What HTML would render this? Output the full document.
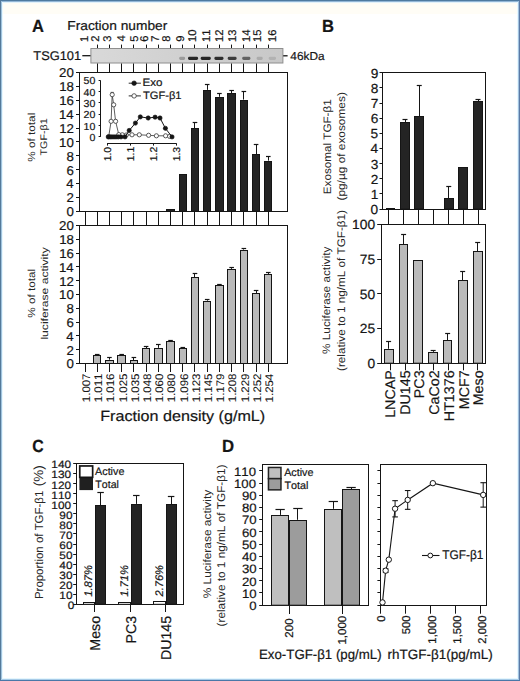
<!DOCTYPE html>
<html><head><meta charset="utf-8"><style>
html,body{margin:0;padding:0;background:#fff;}
body{width:520px;height:681px;overflow:hidden;}
svg{display:block;}
svg text{font-family:"Liberation Sans", sans-serif;font-kerning:none;stroke:#151515;stroke-width:0.2px;}
</style></head><body>
<svg width="520" height="681" viewBox="0 0 520 681" text-rendering="geometricPrecision">
<rect x="0" y="0" width="520" height="681" fill="#fff"/>
<rect x="2" y="3" width="516" height="11" fill="#fffdf6"/>
<text x="31.89" y="31.5" font-size="17.6" font-weight="bold" font-style="normal" fill="#151515" textLength="11.95" lengthAdjust="spacingAndGlyphs">A</text>
<text x="67.27" y="29.5" font-size="13" font-weight="normal" font-style="normal" fill="#151515" textLength="100.06" lengthAdjust="spacingAndGlyphs">Fraction number</text>
<text transform="translate(87.6 42.05) rotate(-90)" x="0" y="0" font-size="11.2" font-weight="normal" font-style="normal" fill="#151515" textLength="6.23" lengthAdjust="spacingAndGlyphs">1</text>
<text transform="translate(99.21 41.76) rotate(-90)" x="0" y="0" font-size="11.2" font-weight="normal" font-style="normal" fill="#151515" textLength="6.23" lengthAdjust="spacingAndGlyphs">2</text>
<text transform="translate(110.51 41.63) rotate(-90)" x="0" y="0" font-size="11.2" font-weight="normal" font-style="normal" fill="#151515" textLength="6.23" lengthAdjust="spacingAndGlyphs">3</text>
<text transform="translate(125.05 41.46) rotate(-90)" x="0" y="0" font-size="11.2" font-weight="normal" font-style="normal" fill="#151515" textLength="6.23" lengthAdjust="spacingAndGlyphs">4</text>
<text transform="translate(138.15 41.65) rotate(-90)" x="0" y="0" font-size="11.2" font-weight="normal" font-style="normal" fill="#151515" textLength="6.23" lengthAdjust="spacingAndGlyphs">5</text>
<text transform="translate(148.41 41.77) rotate(-90)" x="0" y="0" font-size="11.2" font-weight="normal" font-style="normal" fill="#151515" textLength="6.23" lengthAdjust="spacingAndGlyphs">6</text>
<text transform="translate(158.85 41.77) rotate(-90)" x="0" y="0" font-size="11.2" font-weight="normal" font-style="normal" fill="#151515" textLength="6.23" lengthAdjust="spacingAndGlyphs">7</text>
<text transform="translate(169.71 41.69) rotate(-90)" x="0" y="0" font-size="11.2" font-weight="normal" font-style="normal" fill="#151515" textLength="6.23" lengthAdjust="spacingAndGlyphs">8</text>
<text transform="translate(183.71 41.73) rotate(-90)" x="0" y="0" font-size="11.2" font-weight="normal" font-style="normal" fill="#151515" textLength="6.23" lengthAdjust="spacingAndGlyphs">9</text>
<text transform="translate(196.41 42.05) rotate(-90)" x="0" y="0" font-size="11.2" font-weight="normal" font-style="normal" fill="#151515" textLength="12.46" lengthAdjust="spacingAndGlyphs">10</text>
<text transform="translate(209.65 42.05) rotate(-90)" x="0" y="0" font-size="11.2" font-weight="normal" font-style="normal" fill="#151515" textLength="12.46" lengthAdjust="spacingAndGlyphs">11</text>
<text transform="translate(223.11 42.05) rotate(-90)" x="0" y="0" font-size="11.2" font-weight="normal" font-style="normal" fill="#151515" textLength="12.46" lengthAdjust="spacingAndGlyphs">12</text>
<text transform="translate(236.11 42.05) rotate(-90)" x="0" y="0" font-size="11.2" font-weight="normal" font-style="normal" fill="#151515" textLength="12.46" lengthAdjust="spacingAndGlyphs">13</text>
<text transform="translate(249.85 42.05) rotate(-90)" x="0" y="0" font-size="11.2" font-weight="normal" font-style="normal" fill="#151515" textLength="12.46" lengthAdjust="spacingAndGlyphs">14</text>
<text transform="translate(260.85 42.05) rotate(-90)" x="0" y="0" font-size="11.2" font-weight="normal" font-style="normal" fill="#151515" textLength="12.46" lengthAdjust="spacingAndGlyphs">15</text>
<text transform="translate(275.61 42.05) rotate(-90)" x="0" y="0" font-size="11.2" font-weight="normal" font-style="normal" fill="#151515" textLength="12.46" lengthAdjust="spacingAndGlyphs">16</text>
<defs><linearGradient id="gel" x1="0" x2="1" y1="0" y2="0"><stop offset="0" stop-color="#d9d9d9"/><stop offset="0.5" stop-color="#d0d0d0"/><stop offset="1" stop-color="#c8c8c8"/></linearGradient><filter id="blur1" x="-50%" y="-100%" width="200%" height="300%"><feGaussianBlur stdDeviation="0.6 0.45"/></filter></defs>
<rect x="90.9" y="48.5" width="192" height="14.5" fill="url(#gel)" stroke="#8e8e8e" stroke-width="1"/>
<rect x="179.2" y="56.8" width="5.9" height="3.2" rx="1.4" fill="#9a9a9a" filter="url(#blur1)"/>
<rect x="188" y="56.8" width="10.1" height="3.2" rx="1.4" fill="#252525" filter="url(#blur1)"/>
<rect x="200.7" y="56.8" width="10.1" height="3.2" rx="1.4" fill="#252525" filter="url(#blur1)"/>
<rect x="214.4" y="56.8" width="9.1" height="3.2" rx="1.4" fill="#2e2e2e" filter="url(#blur1)"/>
<rect x="227.7" y="56.8" width="8.9" height="3.2" rx="1.4" fill="#3c3c3c" filter="url(#blur1)"/>
<rect x="242.2" y="56.8" width="8.2" height="3.2" rx="1.4" fill="#646464" filter="url(#blur1)"/>
<rect x="256.6" y="56.8" width="6.1" height="3.2" rx="1.4" fill="#ababab" filter="url(#blur1)"/>
<rect x="268.7" y="56.8" width="7.3" height="3.2" rx="1.4" fill="#b2b2b2" filter="url(#blur1)"/>
<line x1="97.5" y1="44.6" x2="97.5" y2="48" stroke="#151515" stroke-width="1"/>
<line x1="97.5" y1="63.5" x2="97.5" y2="72.5" stroke="#151515" stroke-width="1"/>
<line x1="109.5" y1="44.6" x2="109.5" y2="48" stroke="#151515" stroke-width="1"/>
<line x1="109.5" y1="63.5" x2="109.5" y2="72.5" stroke="#151515" stroke-width="1"/>
<line x1="121.5" y1="44.6" x2="121.5" y2="48" stroke="#151515" stroke-width="1"/>
<line x1="121.5" y1="63.5" x2="121.5" y2="72.5" stroke="#151515" stroke-width="1"/>
<line x1="133.5" y1="44.6" x2="133.5" y2="48" stroke="#151515" stroke-width="1"/>
<line x1="133.5" y1="63.5" x2="133.5" y2="72.5" stroke="#151515" stroke-width="1"/>
<line x1="146.5" y1="44.6" x2="146.5" y2="48" stroke="#151515" stroke-width="1"/>
<line x1="146.5" y1="63.5" x2="146.5" y2="72.5" stroke="#151515" stroke-width="1"/>
<line x1="158.5" y1="44.6" x2="158.5" y2="48" stroke="#151515" stroke-width="1"/>
<line x1="158.5" y1="63.5" x2="158.5" y2="72.5" stroke="#151515" stroke-width="1"/>
<line x1="170.5" y1="44.6" x2="170.5" y2="48" stroke="#151515" stroke-width="1"/>
<line x1="170.5" y1="63.5" x2="170.5" y2="72.5" stroke="#151515" stroke-width="1"/>
<line x1="182.5" y1="44.6" x2="182.5" y2="48" stroke="#151515" stroke-width="1"/>
<line x1="182.5" y1="63.5" x2="182.5" y2="72.5" stroke="#151515" stroke-width="1"/>
<line x1="194.5" y1="44.6" x2="194.5" y2="48" stroke="#151515" stroke-width="1"/>
<line x1="194.5" y1="63.5" x2="194.5" y2="72.5" stroke="#151515" stroke-width="1"/>
<line x1="207.5" y1="44.6" x2="207.5" y2="48" stroke="#151515" stroke-width="1"/>
<line x1="207.5" y1="63.5" x2="207.5" y2="72.5" stroke="#151515" stroke-width="1"/>
<line x1="219.5" y1="44.6" x2="219.5" y2="48" stroke="#151515" stroke-width="1"/>
<line x1="219.5" y1="63.5" x2="219.5" y2="72.5" stroke="#151515" stroke-width="1"/>
<line x1="231.5" y1="44.6" x2="231.5" y2="48" stroke="#151515" stroke-width="1"/>
<line x1="231.5" y1="63.5" x2="231.5" y2="72.5" stroke="#151515" stroke-width="1"/>
<line x1="243.5" y1="44.6" x2="243.5" y2="48" stroke="#151515" stroke-width="1"/>
<line x1="243.5" y1="63.5" x2="243.5" y2="72.5" stroke="#151515" stroke-width="1"/>
<line x1="256.5" y1="44.6" x2="256.5" y2="48" stroke="#151515" stroke-width="1"/>
<line x1="256.5" y1="63.5" x2="256.5" y2="72.5" stroke="#151515" stroke-width="1"/>
<line x1="268.5" y1="44.6" x2="268.5" y2="48" stroke="#151515" stroke-width="1"/>
<line x1="268.5" y1="63.5" x2="268.5" y2="72.5" stroke="#151515" stroke-width="1"/>
<text x="33.31" y="59.6" font-size="12.6" font-weight="normal" font-style="normal" fill="#151515" textLength="47.86" lengthAdjust="spacingAndGlyphs">TSG101</text>
<line x1="82.3" y1="55.7" x2="90.5" y2="55.7" stroke="#151515" stroke-width="1.3"/>
<line x1="283.2" y1="55.8" x2="287.6" y2="55.8" stroke="#151515" stroke-width="1.3"/>
<text x="290.33" y="59.9" font-size="11.6" font-weight="normal" font-style="normal" fill="#151515" textLength="34.2" lengthAdjust="spacingAndGlyphs">46kDa</text>
<rect x="79.5" y="72.5" width="208" height="139" fill="none" stroke="#151515" stroke-width="1"/>
<line x1="76" y1="211.5" x2="79.8" y2="211.5" stroke="#151515" stroke-width="1"/>
<text x="66.48" y="216.25" font-size="12.9" font-weight="normal" font-style="normal" fill="#151515" textLength="7.39" lengthAdjust="spacingAndGlyphs">0</text>
<line x1="76" y1="197.5" x2="79.8" y2="197.5" stroke="#151515" stroke-width="1"/>
<text x="66.63" y="202.37" font-size="12.9" font-weight="normal" font-style="normal" fill="#151515" textLength="7.39" lengthAdjust="spacingAndGlyphs">2</text>
<line x1="76" y1="183.5" x2="79.8" y2="183.5" stroke="#151515" stroke-width="1"/>
<text x="66.35" y="188.43" font-size="12.9" font-weight="normal" font-style="normal" fill="#151515" textLength="7.39" lengthAdjust="spacingAndGlyphs">4</text>
<line x1="76" y1="169.5" x2="79.8" y2="169.5" stroke="#151515" stroke-width="1"/>
<text x="66.54" y="174.61" font-size="12.9" font-weight="normal" font-style="normal" fill="#151515" textLength="7.39" lengthAdjust="spacingAndGlyphs">6</text>
<line x1="76" y1="155.5" x2="79.8" y2="155.5" stroke="#151515" stroke-width="1"/>
<text x="66.54" y="160.73" font-size="12.9" font-weight="normal" font-style="normal" fill="#151515" textLength="7.39" lengthAdjust="spacingAndGlyphs">8</text>
<line x1="76" y1="141.5" x2="79.8" y2="141.5" stroke="#151515" stroke-width="1"/>
<text x="59.09" y="146.85" font-size="12.9" font-weight="normal" font-style="normal" fill="#151515" textLength="14.78" lengthAdjust="spacingAndGlyphs">10</text>
<line x1="76" y1="128.5" x2="79.8" y2="128.5" stroke="#151515" stroke-width="1"/>
<text x="59.24" y="132.97" font-size="12.9" font-weight="normal" font-style="normal" fill="#151515" textLength="14.78" lengthAdjust="spacingAndGlyphs">12</text>
<line x1="76" y1="114.5" x2="79.8" y2="114.5" stroke="#151515" stroke-width="1"/>
<text x="58.96" y="119.03" font-size="12.9" font-weight="normal" font-style="normal" fill="#151515" textLength="14.78" lengthAdjust="spacingAndGlyphs">14</text>
<line x1="76" y1="100.5" x2="79.8" y2="100.5" stroke="#151515" stroke-width="1"/>
<text x="59.15" y="105.21" font-size="12.9" font-weight="normal" font-style="normal" fill="#151515" textLength="14.78" lengthAdjust="spacingAndGlyphs">16</text>
<line x1="76" y1="86.5" x2="79.8" y2="86.5" stroke="#151515" stroke-width="1"/>
<text x="59.15" y="91.33" font-size="12.9" font-weight="normal" font-style="normal" fill="#151515" textLength="14.78" lengthAdjust="spacingAndGlyphs">18</text>
<line x1="76" y1="72.5" x2="79.8" y2="72.5" stroke="#151515" stroke-width="1"/>
<text x="59.09" y="77.45" font-size="12.9" font-weight="normal" font-style="normal" fill="#151515" textLength="14.78" lengthAdjust="spacingAndGlyphs">20</text>
<line x1="85.5" y1="211.3" x2="85.5" y2="225.4" stroke="#151515" stroke-width="1"/>
<line x1="97.5" y1="211.3" x2="97.5" y2="225.4" stroke="#151515" stroke-width="1"/>
<line x1="109.5" y1="211.3" x2="109.5" y2="225.4" stroke="#151515" stroke-width="1"/>
<line x1="121.5" y1="211.3" x2="121.5" y2="225.4" stroke="#151515" stroke-width="1"/>
<line x1="133.5" y1="211.3" x2="133.5" y2="225.4" stroke="#151515" stroke-width="1"/>
<line x1="146.5" y1="211.3" x2="146.5" y2="225.4" stroke="#151515" stroke-width="1"/>
<line x1="158.5" y1="211.3" x2="158.5" y2="225.4" stroke="#151515" stroke-width="1"/>
<line x1="170.5" y1="211.3" x2="170.5" y2="225.4" stroke="#151515" stroke-width="1"/>
<line x1="182.5" y1="211.3" x2="182.5" y2="225.4" stroke="#151515" stroke-width="1"/>
<line x1="194.5" y1="211.3" x2="194.5" y2="225.4" stroke="#151515" stroke-width="1"/>
<line x1="207.5" y1="211.3" x2="207.5" y2="225.4" stroke="#151515" stroke-width="1"/>
<line x1="219.5" y1="211.3" x2="219.5" y2="225.4" stroke="#151515" stroke-width="1"/>
<line x1="231.5" y1="211.3" x2="231.5" y2="225.4" stroke="#151515" stroke-width="1"/>
<line x1="243.5" y1="211.3" x2="243.5" y2="225.4" stroke="#151515" stroke-width="1"/>
<line x1="256.5" y1="211.3" x2="256.5" y2="225.4" stroke="#151515" stroke-width="1"/>
<line x1="268.5" y1="211.3" x2="268.5" y2="225.4" stroke="#151515" stroke-width="1"/>
<rect x="166.5" y="209.5" width="8" height="1.80" fill="#242424" stroke="#151515" stroke-width="1"/>
<rect x="179.5" y="174.5" width="7" height="36.80" fill="#242424" stroke="#151515" stroke-width="1"/>
<line x1="194.5" y1="122.47" x2="194.5" y2="128.02" stroke="#151515" stroke-width="1"/>
<line x1="192.68" y1="122.5" x2="197.28" y2="122.5" stroke="#151515" stroke-width="1.2"/>
<rect x="191.5" y="128.5" width="7" height="82.80" fill="#242424" stroke="#151515" stroke-width="1"/>
<line x1="207.5" y1="84.3" x2="207.5" y2="89.85" stroke="#151515" stroke-width="1"/>
<line x1="204.9" y1="84.5" x2="209.5" y2="84.5" stroke="#151515" stroke-width="1.2"/>
<rect x="203.5" y="90.5" width="7" height="120.80" fill="#242424" stroke="#151515" stroke-width="1"/>
<line x1="219.5" y1="93.32" x2="219.5" y2="96.79" stroke="#151515" stroke-width="1"/>
<line x1="217.12" y1="93.5" x2="221.72" y2="93.5" stroke="#151515" stroke-width="1.2"/>
<rect x="215.5" y="97.5" width="8" height="113.80" fill="#242424" stroke="#151515" stroke-width="1"/>
<line x1="231.5" y1="90.54" x2="231.5" y2="93.32" stroke="#151515" stroke-width="1"/>
<line x1="229.34" y1="90.5" x2="233.94" y2="90.5" stroke="#151515" stroke-width="1.2"/>
<rect x="227.5" y="93.5" width="8" height="117.80" fill="#242424" stroke="#151515" stroke-width="1"/>
<line x1="243.5" y1="91.93" x2="243.5" y2="99.57" stroke="#151515" stroke-width="1"/>
<line x1="241.56" y1="91.5" x2="246.16" y2="91.5" stroke="#151515" stroke-width="1.2"/>
<rect x="240.5" y="100.5" width="7" height="110.80" fill="#242424" stroke="#151515" stroke-width="1"/>
<line x1="256.5" y1="144.68" x2="256.5" y2="154.05" stroke="#151515" stroke-width="1"/>
<line x1="253.78" y1="144.5" x2="258.38" y2="144.5" stroke="#151515" stroke-width="1.2"/>
<rect x="252.5" y="154.5" width="7" height="56.80" fill="#242424" stroke="#151515" stroke-width="1"/>
<line x1="268.5" y1="156.47" x2="268.5" y2="160.64" stroke="#151515" stroke-width="1"/>
<line x1="266" y1="156.5" x2="270.6" y2="156.5" stroke="#151515" stroke-width="1.2"/>
<rect x="264.5" y="161.5" width="7" height="49.80" fill="#242424" stroke="#151515" stroke-width="1"/>
<text transform="translate(35 161.82) rotate(-90)" x="0" y="0" font-size="10.2" font-weight="normal" font-style="normal" fill="#262626" textLength="49.11" lengthAdjust="spacingAndGlyphs" style="stroke-width:0px;stroke:#262626">% of total</text>
<text transform="translate(47.4 155.44) rotate(-90)" x="0" y="0" font-size="9.6" font-weight="normal" font-style="normal" fill="#262626" textLength="37.16" lengthAdjust="spacingAndGlyphs" style="stroke-width:0px;stroke:#262626">TGF-β1</text>
<line x1="100.5" y1="80.3" x2="100.5" y2="136.9" stroke="#151515" stroke-width="1"/>
<line x1="98.6" y1="136.5" x2="100.4" y2="136.5" stroke="#151515" stroke-width="1"/>
<text x="89.51" y="140.91" font-size="10.2" font-weight="normal" font-style="normal" fill="#151515" textLength="5.9" lengthAdjust="spacingAndGlyphs">0</text>
<line x1="98.6" y1="125.5" x2="100.4" y2="125.5" stroke="#151515" stroke-width="1"/>
<text x="83.62" y="129.59" font-size="10.2" font-weight="normal" font-style="normal" fill="#151515" textLength="11.8" lengthAdjust="spacingAndGlyphs">10</text>
<line x1="98.6" y1="114.5" x2="100.4" y2="114.5" stroke="#151515" stroke-width="1"/>
<text x="83.62" y="118.27" font-size="10.2" font-weight="normal" font-style="normal" fill="#151515" textLength="11.8" lengthAdjust="spacingAndGlyphs">20</text>
<line x1="98.6" y1="102.5" x2="100.4" y2="102.5" stroke="#151515" stroke-width="1"/>
<text x="83.62" y="106.95" font-size="10.2" font-weight="normal" font-style="normal" fill="#151515" textLength="11.8" lengthAdjust="spacingAndGlyphs">30</text>
<line x1="98.6" y1="91.5" x2="100.4" y2="91.5" stroke="#151515" stroke-width="1"/>
<text x="83.62" y="95.63" font-size="10.2" font-weight="normal" font-style="normal" fill="#151515" textLength="11.8" lengthAdjust="spacingAndGlyphs">40</text>
<line x1="98.6" y1="80.5" x2="100.4" y2="80.5" stroke="#151515" stroke-width="1"/>
<text x="83.62" y="84.31" font-size="10.2" font-weight="normal" font-style="normal" fill="#151515" textLength="11.8" lengthAdjust="spacingAndGlyphs">50</text>
<line x1="107.1" y1="143.5" x2="176.5" y2="143.5" stroke="#151515" stroke-width="1"/>
<line x1="107.5" y1="143.3" x2="107.5" y2="145.6" stroke="#151515" stroke-width="1"/>
<text transform="translate(110.59 161.35) rotate(-90)" x="0" y="0" font-size="10" font-weight="normal" font-style="normal" fill="#151515" textLength="14.46" lengthAdjust="spacingAndGlyphs">1.0</text>
<line x1="130.5" y1="143.3" x2="130.5" y2="145.6" stroke="#151515" stroke-width="1"/>
<text transform="translate(133.64 161.25) rotate(-90)" x="0" y="0" font-size="10" font-weight="normal" font-style="normal" fill="#151515" textLength="14.46" lengthAdjust="spacingAndGlyphs">1.1</text>
<line x1="153.5" y1="143.3" x2="153.5" y2="145.6" stroke="#151515" stroke-width="1"/>
<text transform="translate(156.79 161.23) rotate(-90)" x="0" y="0" font-size="10" font-weight="normal" font-style="normal" fill="#151515" textLength="14.46" lengthAdjust="spacingAndGlyphs">1.2</text>
<line x1="176.5" y1="143.3" x2="176.5" y2="145.6" stroke="#151515" stroke-width="1"/>
<text transform="translate(179.89 161.3) rotate(-90)" x="0" y="0" font-size="10" font-weight="normal" font-style="normal" fill="#151515" textLength="14.46" lengthAdjust="spacingAndGlyphs">1.3</text>
<line x1="110.7" y1="92.4" x2="113.7" y2="92.4" stroke="#151515" stroke-width="0.9"/>
<polyline points="108.7,136.6 111.1,121.3 112.2,94.7 113.7,104.8 115.6,121.3 118.8,134.6 122.3,134.8 126.2,135 132,134.8 139.3,134.8 148.6,135.3 156.4,135.8 165.6,135.8 169.6,136.4" fill="none" stroke="#333" stroke-width="0.8"/>
<circle cx="108.7" cy="136.6" r="2.1" fill="#fff" stroke="#333" stroke-width="0.8"/>
<circle cx="111.1" cy="121.3" r="2.1" fill="#fff" stroke="#333" stroke-width="0.8"/>
<circle cx="112.2" cy="94.7" r="2.1" fill="#fff" stroke="#333" stroke-width="0.8"/>
<circle cx="113.7" cy="104.8" r="2.1" fill="#fff" stroke="#333" stroke-width="0.8"/>
<circle cx="115.6" cy="121.3" r="2.1" fill="#fff" stroke="#333" stroke-width="0.8"/>
<circle cx="118.8" cy="134.6" r="2.1" fill="#fff" stroke="#333" stroke-width="0.8"/>
<circle cx="122.3" cy="134.8" r="2.1" fill="#fff" stroke="#333" stroke-width="0.8"/>
<circle cx="126.2" cy="135" r="2.1" fill="#fff" stroke="#333" stroke-width="0.8"/>
<circle cx="132" cy="134.8" r="2.1" fill="#fff" stroke="#333" stroke-width="0.8"/>
<circle cx="139.3" cy="134.8" r="2.1" fill="#fff" stroke="#333" stroke-width="0.8"/>
<circle cx="148.6" cy="135.3" r="2.1" fill="#fff" stroke="#333" stroke-width="0.8"/>
<circle cx="156.4" cy="135.8" r="2.1" fill="#fff" stroke="#333" stroke-width="0.8"/>
<circle cx="165.6" cy="135.8" r="2.1" fill="#fff" stroke="#333" stroke-width="0.8"/>
<circle cx="169.6" cy="136.4" r="2.1" fill="#fff" stroke="#333" stroke-width="0.8"/>
<polyline points="108.3,136.9 110.2,136.9 112,136.9 114,136.9 116,136.9 118.2,136.9 121,136.9 125,136.9 129.2,130.5 135.4,123.1 140.3,116.9 148.2,118 155.1,117.2 160,118 165.4,128.3 172,136.9" fill="none" stroke="#151515" stroke-width="1"/>
<circle cx="108.3" cy="136.9" r="2.15" fill="#151515" stroke="#151515" stroke-width="0.6"/>
<circle cx="110.2" cy="136.9" r="2.15" fill="#151515" stroke="#151515" stroke-width="0.6"/>
<circle cx="112" cy="136.9" r="2.15" fill="#151515" stroke="#151515" stroke-width="0.6"/>
<circle cx="114" cy="136.9" r="2.15" fill="#151515" stroke="#151515" stroke-width="0.6"/>
<circle cx="116" cy="136.9" r="2.15" fill="#151515" stroke="#151515" stroke-width="0.6"/>
<circle cx="118.2" cy="136.9" r="2.15" fill="#151515" stroke="#151515" stroke-width="0.6"/>
<circle cx="121" cy="136.9" r="2.15" fill="#151515" stroke="#151515" stroke-width="0.6"/>
<circle cx="125" cy="136.9" r="2.15" fill="#151515" stroke="#151515" stroke-width="0.6"/>
<circle cx="129.2" cy="130.5" r="2.15" fill="#151515" stroke="#151515" stroke-width="0.6"/>
<circle cx="135.4" cy="123.1" r="2.15" fill="#151515" stroke="#151515" stroke-width="0.6"/>
<circle cx="140.3" cy="116.9" r="2.15" fill="#151515" stroke="#151515" stroke-width="0.6"/>
<circle cx="148.2" cy="118" r="2.15" fill="#151515" stroke="#151515" stroke-width="0.6"/>
<circle cx="155.1" cy="117.2" r="2.15" fill="#151515" stroke="#151515" stroke-width="0.6"/>
<circle cx="160" cy="118" r="2.15" fill="#151515" stroke="#151515" stroke-width="0.6"/>
<circle cx="165.4" cy="128.3" r="2.15" fill="#151515" stroke="#151515" stroke-width="0.6"/>
<circle cx="172" cy="136.9" r="2.15" fill="#151515" stroke="#151515" stroke-width="0.6"/>
<line x1="128.7" y1="83.2" x2="140.9" y2="83.2" stroke="#151515" stroke-width="0.9"/>
<circle cx="134.1" cy="83.2" r="2.3" fill="#151515" stroke="#151515" stroke-width="0.6"/>
<text x="142.55" y="86.3" font-size="10.8" font-weight="normal" font-style="normal" fill="#151515" textLength="20.04" lengthAdjust="spacingAndGlyphs">Exo</text>
<line x1="128.7" y1="95.9" x2="140.9" y2="95.9" stroke="#151515" stroke-width="0.9"/>
<circle cx="134.1" cy="95.9" r="2.2" fill="#fff" stroke="#333" stroke-width="0.8"/>
<text x="142.95" y="99.2" font-size="10.8" font-weight="normal" font-style="normal" fill="#151515" textLength="38.59" lengthAdjust="spacingAndGlyphs">TGF-β1</text>
<rect x="79.5" y="225.5" width="208" height="138" fill="none" stroke="#151515" stroke-width="1"/>
<line x1="76" y1="363.5" x2="79.8" y2="363.5" stroke="#151515" stroke-width="1"/>
<text x="66.48" y="368.45" font-size="12.9" font-weight="normal" font-style="normal" fill="#151515" textLength="7.39" lengthAdjust="spacingAndGlyphs">0</text>
<line x1="76" y1="349.5" x2="79.8" y2="349.5" stroke="#151515" stroke-width="1"/>
<text x="66.63" y="354.64" font-size="12.9" font-weight="normal" font-style="normal" fill="#151515" textLength="7.39" lengthAdjust="spacingAndGlyphs">2</text>
<line x1="76" y1="335.5" x2="79.8" y2="335.5" stroke="#151515" stroke-width="1"/>
<text x="66.35" y="340.77" font-size="12.9" font-weight="normal" font-style="normal" fill="#151515" textLength="7.39" lengthAdjust="spacingAndGlyphs">4</text>
<line x1="76" y1="322.5" x2="79.8" y2="322.5" stroke="#151515" stroke-width="1"/>
<text x="66.54" y="327.02" font-size="12.9" font-weight="normal" font-style="normal" fill="#151515" textLength="7.39" lengthAdjust="spacingAndGlyphs">6</text>
<line x1="76" y1="308.5" x2="79.8" y2="308.5" stroke="#151515" stroke-width="1"/>
<text x="66.54" y="313.21" font-size="12.9" font-weight="normal" font-style="normal" fill="#151515" textLength="7.39" lengthAdjust="spacingAndGlyphs">8</text>
<line x1="76" y1="294.5" x2="79.8" y2="294.5" stroke="#151515" stroke-width="1"/>
<text x="59.09" y="299.4" font-size="12.9" font-weight="normal" font-style="normal" fill="#151515" textLength="14.78" lengthAdjust="spacingAndGlyphs">10</text>
<line x1="76" y1="280.5" x2="79.8" y2="280.5" stroke="#151515" stroke-width="1"/>
<text x="59.24" y="285.59" font-size="12.9" font-weight="normal" font-style="normal" fill="#151515" textLength="14.78" lengthAdjust="spacingAndGlyphs">12</text>
<line x1="76" y1="266.5" x2="79.8" y2="266.5" stroke="#151515" stroke-width="1"/>
<text x="58.96" y="271.72" font-size="12.9" font-weight="normal" font-style="normal" fill="#151515" textLength="14.78" lengthAdjust="spacingAndGlyphs">14</text>
<line x1="76" y1="253.5" x2="79.8" y2="253.5" stroke="#151515" stroke-width="1"/>
<text x="59.15" y="257.97" font-size="12.9" font-weight="normal" font-style="normal" fill="#151515" textLength="14.78" lengthAdjust="spacingAndGlyphs">16</text>
<line x1="76" y1="239.5" x2="79.8" y2="239.5" stroke="#151515" stroke-width="1"/>
<text x="59.15" y="244.16" font-size="12.9" font-weight="normal" font-style="normal" fill="#151515" textLength="14.78" lengthAdjust="spacingAndGlyphs">18</text>
<line x1="76" y1="225.5" x2="79.8" y2="225.5" stroke="#151515" stroke-width="1"/>
<text x="59.09" y="230.35" font-size="12.9" font-weight="normal" font-style="normal" fill="#151515" textLength="14.78" lengthAdjust="spacingAndGlyphs">20</text>
<line x1="97.5" y1="354.52" x2="97.5" y2="355.21" stroke="#151515" stroke-width="1"/>
<line x1="94.92" y1="354.5" x2="99.52" y2="354.5" stroke="#151515" stroke-width="1.2"/>
<rect x="93.5" y="355.5" width="7" height="8.00" fill="#bababa" stroke="#151515" stroke-width="1"/>
<line x1="109.5" y1="357.63" x2="109.5" y2="359.7" stroke="#151515" stroke-width="1"/>
<line x1="107.14" y1="357.5" x2="111.74" y2="357.5" stroke="#151515" stroke-width="1.2"/>
<rect x="105.5" y="360.5" width="8" height="3.00" fill="#bababa" stroke="#151515" stroke-width="1"/>
<line x1="121.5" y1="354.32" x2="121.5" y2="354.73" stroke="#151515" stroke-width="1"/>
<line x1="119.36" y1="354.5" x2="123.96" y2="354.5" stroke="#151515" stroke-width="1.2"/>
<rect x="117.5" y="355.5" width="8" height="8.00" fill="#bababa" stroke="#151515" stroke-width="1"/>
<line x1="133.5" y1="357.01" x2="133.5" y2="360.39" stroke="#151515" stroke-width="1"/>
<line x1="131.58" y1="357.5" x2="136.18" y2="357.5" stroke="#151515" stroke-width="1.2"/>
<rect x="130.5" y="360.5" width="7" height="3.00" fill="#bababa" stroke="#151515" stroke-width="1"/>
<line x1="146.5" y1="346.44" x2="146.5" y2="348.31" stroke="#151515" stroke-width="1"/>
<line x1="143.8" y1="346.5" x2="148.4" y2="346.5" stroke="#151515" stroke-width="1.2"/>
<rect x="142.5" y="348.5" width="7" height="15.00" fill="#bababa" stroke="#151515" stroke-width="1"/>
<line x1="158.5" y1="344.99" x2="158.5" y2="347.83" stroke="#151515" stroke-width="1"/>
<line x1="156.02" y1="344.5" x2="160.62" y2="344.5" stroke="#151515" stroke-width="1.2"/>
<rect x="154.5" y="348.5" width="8" height="15.00" fill="#bababa" stroke="#151515" stroke-width="1"/>
<line x1="170.5" y1="340.51" x2="170.5" y2="340.92" stroke="#151515" stroke-width="1"/>
<line x1="168.24" y1="340.5" x2="172.84" y2="340.5" stroke="#151515" stroke-width="1.2"/>
<rect x="166.5" y="341.5" width="8" height="22.00" fill="#bababa" stroke="#151515" stroke-width="1"/>
<line x1="182.5" y1="347.83" x2="182.5" y2="348.31" stroke="#151515" stroke-width="1"/>
<line x1="180.46" y1="347.5" x2="185.06" y2="347.5" stroke="#151515" stroke-width="1.2"/>
<rect x="179.5" y="348.5" width="7" height="15.00" fill="#bababa" stroke="#151515" stroke-width="1"/>
<line x1="194.5" y1="273.04" x2="194.5" y2="277.19" stroke="#151515" stroke-width="1"/>
<line x1="192.68" y1="273.5" x2="197.28" y2="273.5" stroke="#151515" stroke-width="1.2"/>
<rect x="191.5" y="277.5" width="7" height="86.00" fill="#bababa" stroke="#151515" stroke-width="1"/>
<line x1="207.5" y1="299.63" x2="207.5" y2="300.66" stroke="#151515" stroke-width="1"/>
<line x1="204.9" y1="299.5" x2="209.5" y2="299.5" stroke="#151515" stroke-width="1.2"/>
<rect x="203.5" y="301.5" width="7" height="62.00" fill="#bababa" stroke="#151515" stroke-width="1"/>
<line x1="219.5" y1="284.44" x2="219.5" y2="285.47" stroke="#151515" stroke-width="1"/>
<line x1="217.12" y1="284.5" x2="221.72" y2="284.5" stroke="#151515" stroke-width="1.2"/>
<rect x="215.5" y="285.5" width="8" height="78.00" fill="#bababa" stroke="#151515" stroke-width="1"/>
<line x1="231.5" y1="267.52" x2="231.5" y2="268.9" stroke="#151515" stroke-width="1"/>
<line x1="229.34" y1="267.5" x2="233.94" y2="267.5" stroke="#151515" stroke-width="1.2"/>
<rect x="227.5" y="269.5" width="8" height="94.00" fill="#bababa" stroke="#151515" stroke-width="1"/>
<line x1="243.5" y1="248.19" x2="243.5" y2="249.57" stroke="#151515" stroke-width="1"/>
<line x1="241.56" y1="248.5" x2="246.16" y2="248.5" stroke="#151515" stroke-width="1.2"/>
<rect x="240.5" y="250.5" width="7" height="113.00" fill="#bababa" stroke="#151515" stroke-width="1"/>
<line x1="256.5" y1="291" x2="256.5" y2="293.07" stroke="#151515" stroke-width="1"/>
<line x1="253.78" y1="290.5" x2="258.38" y2="290.5" stroke="#151515" stroke-width="1.2"/>
<rect x="252.5" y="293.5" width="7" height="70.00" fill="#bababa" stroke="#151515" stroke-width="1"/>
<line x1="268.5" y1="272.7" x2="268.5" y2="273.94" stroke="#151515" stroke-width="1"/>
<line x1="266" y1="272.5" x2="270.6" y2="272.5" stroke="#151515" stroke-width="1.2"/>
<rect x="264.5" y="274.5" width="7" height="89.00" fill="#bababa" stroke="#151515" stroke-width="1"/>
<line x1="85.5" y1="363.5" x2="85.5" y2="372" stroke="#151515" stroke-width="1"/>
<text transform="translate(89.84 402.15) rotate(-90)" x="0" y="0" font-size="11" font-weight="normal" font-style="normal" fill="#151515" textLength="28.63" lengthAdjust="spacingAndGlyphs" style="stroke-width:0.05px;stroke:#151515">1.007</text>
<line x1="97.5" y1="363.5" x2="97.5" y2="372" stroke="#151515" stroke-width="1"/>
<text transform="translate(102.06 402.17) rotate(-90)" x="0" y="0" font-size="11" font-weight="normal" font-style="normal" fill="#151515" textLength="28.63" lengthAdjust="spacingAndGlyphs" style="stroke-width:0.05px;stroke:#151515">1.011</text>
<line x1="109.5" y1="363.5" x2="109.5" y2="372" stroke="#151515" stroke-width="1"/>
<text transform="translate(114.28 402.23) rotate(-90)" x="0" y="0" font-size="11" font-weight="normal" font-style="normal" fill="#151515" textLength="28.63" lengthAdjust="spacingAndGlyphs" style="stroke-width:0.05px;stroke:#151515">1.016</text>
<line x1="121.5" y1="363.5" x2="121.5" y2="372" stroke="#151515" stroke-width="1"/>
<text transform="translate(126.5 402.25) rotate(-90)" x="0" y="0" font-size="11" font-weight="normal" font-style="normal" fill="#151515" textLength="28.63" lengthAdjust="spacingAndGlyphs" style="stroke-width:0.05px;stroke:#151515">1.025</text>
<line x1="133.5" y1="363.5" x2="133.5" y2="372" stroke="#151515" stroke-width="1"/>
<text transform="translate(138.72 402.25) rotate(-90)" x="0" y="0" font-size="11" font-weight="normal" font-style="normal" fill="#151515" textLength="28.63" lengthAdjust="spacingAndGlyphs" style="stroke-width:0.05px;stroke:#151515">1.035</text>
<line x1="146.5" y1="363.5" x2="146.5" y2="372" stroke="#151515" stroke-width="1"/>
<text transform="translate(150.94 402.23) rotate(-90)" x="0" y="0" font-size="11" font-weight="normal" font-style="normal" fill="#151515" textLength="28.63" lengthAdjust="spacingAndGlyphs" style="stroke-width:0.05px;stroke:#151515">1.048</text>
<line x1="158.5" y1="363.5" x2="158.5" y2="372" stroke="#151515" stroke-width="1"/>
<text transform="translate(163.16 402.28) rotate(-90)" x="0" y="0" font-size="11" font-weight="normal" font-style="normal" fill="#151515" textLength="28.63" lengthAdjust="spacingAndGlyphs" style="stroke-width:0.05px;stroke:#151515">1.060</text>
<line x1="170.5" y1="363.5" x2="170.5" y2="372" stroke="#151515" stroke-width="1"/>
<text transform="translate(175.38 402.28) rotate(-90)" x="0" y="0" font-size="11" font-weight="normal" font-style="normal" fill="#151515" textLength="28.63" lengthAdjust="spacingAndGlyphs" style="stroke-width:0.05px;stroke:#151515">1.080</text>
<line x1="182.5" y1="363.5" x2="182.5" y2="372" stroke="#151515" stroke-width="1"/>
<text transform="translate(187.6 402.23) rotate(-90)" x="0" y="0" font-size="11" font-weight="normal" font-style="normal" fill="#151515" textLength="28.63" lengthAdjust="spacingAndGlyphs" style="stroke-width:0.05px;stroke:#151515">1.096</text>
<line x1="194.5" y1="363.5" x2="194.5" y2="372" stroke="#151515" stroke-width="1"/>
<text transform="translate(199.82 402.23) rotate(-90)" x="0" y="0" font-size="11" font-weight="normal" font-style="normal" fill="#151515" textLength="28.63" lengthAdjust="spacingAndGlyphs" style="stroke-width:0.05px;stroke:#151515">1.123</text>
<line x1="207.5" y1="363.5" x2="207.5" y2="372" stroke="#151515" stroke-width="1"/>
<text transform="translate(211.98 402.25) rotate(-90)" x="0" y="0" font-size="11" font-weight="normal" font-style="normal" fill="#151515" textLength="28.63" lengthAdjust="spacingAndGlyphs" style="stroke-width:0.05px;stroke:#151515">1.145</text>
<line x1="219.5" y1="363.5" x2="219.5" y2="372" stroke="#151515" stroke-width="1"/>
<text transform="translate(224.26 402.19) rotate(-90)" x="0" y="0" font-size="11" font-weight="normal" font-style="normal" fill="#151515" textLength="28.63" lengthAdjust="spacingAndGlyphs" style="stroke-width:0.05px;stroke:#151515">1.179</text>
<line x1="231.5" y1="363.5" x2="231.5" y2="372" stroke="#151515" stroke-width="1"/>
<text transform="translate(236.48 402.23) rotate(-90)" x="0" y="0" font-size="11" font-weight="normal" font-style="normal" fill="#151515" textLength="28.63" lengthAdjust="spacingAndGlyphs" style="stroke-width:0.05px;stroke:#151515">1.208</text>
<line x1="243.5" y1="363.5" x2="243.5" y2="372" stroke="#151515" stroke-width="1"/>
<text transform="translate(248.7 402.19) rotate(-90)" x="0" y="0" font-size="11" font-weight="normal" font-style="normal" fill="#151515" textLength="28.63" lengthAdjust="spacingAndGlyphs" style="stroke-width:0.05px;stroke:#151515">1.229</text>
<line x1="256.5" y1="363.5" x2="256.5" y2="372" stroke="#151515" stroke-width="1"/>
<text transform="translate(260.92 402.15) rotate(-90)" x="0" y="0" font-size="11" font-weight="normal" font-style="normal" fill="#151515" textLength="28.63" lengthAdjust="spacingAndGlyphs" style="stroke-width:0.05px;stroke:#151515">1.252</text>
<line x1="268.5" y1="363.5" x2="268.5" y2="372" stroke="#151515" stroke-width="1"/>
<text transform="translate(273.14 402.39) rotate(-90)" x="0" y="0" font-size="11" font-weight="normal" font-style="normal" fill="#151515" textLength="28.63" lengthAdjust="spacingAndGlyphs" style="stroke-width:0.05px;stroke:#151515">1.254</text>
<text transform="translate(35.1 317.72) rotate(-90)" x="0" y="0" font-size="10.2" font-weight="normal" font-style="normal" fill="#262626" textLength="48.9" lengthAdjust="spacingAndGlyphs" style="stroke-width:0px;stroke:#262626">% of total</text>
<text transform="translate(48.1 339.62) rotate(-90)" x="0" y="0" font-size="9.9" font-weight="normal" font-style="normal" fill="#262626" textLength="92.34" lengthAdjust="spacingAndGlyphs" style="stroke-width:0px;stroke:#262626">luciferase activity</text>
<text x="100.28" y="421.2" font-size="14.8" font-weight="normal" font-style="normal" fill="#151515" textLength="164.92" lengthAdjust="spacingAndGlyphs">Fraction density (g/mL)</text>
<text x="322.09" y="31.5" font-size="17.6" font-weight="bold" font-style="normal" fill="#151515" textLength="12.02" lengthAdjust="spacingAndGlyphs">B</text>
<rect x="382.5" y="72.5" width="103" height="137" fill="none" stroke="#151515" stroke-width="1"/>
<line x1="379.5" y1="209.5" x2="382.9" y2="209.5" stroke="#151515" stroke-width="1"/>
<text x="370.6" y="214.01" font-size="13.2" font-weight="normal" font-style="normal" fill="#151515" textLength="7.63" lengthAdjust="spacingAndGlyphs">0</text>
<line x1="379.5" y1="193.5" x2="382.9" y2="193.5" stroke="#151515" stroke-width="1"/>
<text x="370.74" y="198.8" font-size="13.2" font-weight="normal" font-style="normal" fill="#151515" textLength="7.63" lengthAdjust="spacingAndGlyphs">1</text>
<line x1="379.5" y1="178.5" x2="382.9" y2="178.5" stroke="#151515" stroke-width="1"/>
<text x="370.76" y="183.72" font-size="13.2" font-weight="normal" font-style="normal" fill="#151515" textLength="7.63" lengthAdjust="spacingAndGlyphs">2</text>
<line x1="379.5" y1="163.5" x2="382.9" y2="163.5" stroke="#151515" stroke-width="1"/>
<text x="370.67" y="168.58" font-size="13.2" font-weight="normal" font-style="normal" fill="#151515" textLength="7.63" lengthAdjust="spacingAndGlyphs">3</text>
<line x1="379.5" y1="148.5" x2="382.9" y2="148.5" stroke="#151515" stroke-width="1"/>
<text x="370.47" y="153.36" font-size="13.2" font-weight="normal" font-style="normal" fill="#151515" textLength="7.63" lengthAdjust="spacingAndGlyphs">4</text>
<line x1="379.5" y1="133.5" x2="382.9" y2="133.5" stroke="#151515" stroke-width="1"/>
<text x="370.64" y="138.22" font-size="13.2" font-weight="normal" font-style="normal" fill="#151515" textLength="7.63" lengthAdjust="spacingAndGlyphs">5</text>
<line x1="379.5" y1="118.5" x2="382.9" y2="118.5" stroke="#151515" stroke-width="1"/>
<text x="370.67" y="123.14" font-size="13.2" font-weight="normal" font-style="normal" fill="#151515" textLength="7.63" lengthAdjust="spacingAndGlyphs">6</text>
<line x1="379.5" y1="103.5" x2="382.9" y2="103.5" stroke="#151515" stroke-width="1"/>
<text x="370.76" y="107.93" font-size="13.2" font-weight="normal" font-style="normal" fill="#151515" textLength="7.63" lengthAdjust="spacingAndGlyphs">7</text>
<line x1="379.5" y1="87.5" x2="382.9" y2="87.5" stroke="#151515" stroke-width="1"/>
<text x="370.66" y="92.85" font-size="13.2" font-weight="normal" font-style="normal" fill="#151515" textLength="7.63" lengthAdjust="spacingAndGlyphs">8</text>
<line x1="379.5" y1="72.5" x2="382.9" y2="72.5" stroke="#151515" stroke-width="1"/>
<text x="370.72" y="77.71" font-size="13.2" font-weight="normal" font-style="normal" fill="#151515" textLength="7.63" lengthAdjust="spacingAndGlyphs">9</text>
<rect x="386.5" y="208.5" width="8" height="0.60" fill="#242424" stroke="#151515" stroke-width="1"/>
<line x1="405.5" y1="119.29" x2="405.5" y2="122.02" stroke="#151515" stroke-width="1"/>
<line x1="402.5" y1="119.5" x2="407.5" y2="119.5" stroke="#151515" stroke-width="1.2"/>
<rect x="400.5" y="122.5" width="9" height="86.60" fill="#242424" stroke="#151515" stroke-width="1"/>
<line x1="419.5" y1="85.67" x2="419.5" y2="116.11" stroke="#151515" stroke-width="1"/>
<line x1="416.75" y1="85.5" x2="421.75" y2="85.5" stroke="#151515" stroke-width="1.2"/>
<rect x="414.5" y="116.5" width="9" height="92.60" fill="#242424" stroke="#151515" stroke-width="1"/>
<line x1="448.5" y1="186.23" x2="448.5" y2="198.04" stroke="#151515" stroke-width="1"/>
<line x1="446.25" y1="186.5" x2="451.25" y2="186.5" stroke="#151515" stroke-width="1.2"/>
<rect x="444.5" y="198.5" width="9" height="10.60" fill="#242424" stroke="#151515" stroke-width="1"/>
<rect x="458.5" y="167.5" width="9" height="41.60" fill="#242424" stroke="#151515" stroke-width="1"/>
<line x1="478.5" y1="99.15" x2="478.5" y2="100.97" stroke="#151515" stroke-width="1"/>
<line x1="475.5" y1="99.5" x2="480.5" y2="99.5" stroke="#151515" stroke-width="1.2"/>
<rect x="473.5" y="101.5" width="9" height="107.60" fill="#242424" stroke="#151515" stroke-width="1"/>
<line x1="388.5" y1="209.1" x2="388.5" y2="224.6" stroke="#151515" stroke-width="1"/>
<line x1="403.5" y1="209.1" x2="403.5" y2="224.6" stroke="#151515" stroke-width="1"/>
<line x1="418.5" y1="209.1" x2="418.5" y2="224.6" stroke="#151515" stroke-width="1"/>
<line x1="433.5" y1="209.1" x2="433.5" y2="224.6" stroke="#151515" stroke-width="1"/>
<line x1="448.5" y1="209.1" x2="448.5" y2="224.6" stroke="#151515" stroke-width="1"/>
<line x1="463.5" y1="209.1" x2="463.5" y2="224.6" stroke="#151515" stroke-width="1"/>
<line x1="478.5" y1="209.1" x2="478.5" y2="224.6" stroke="#151515" stroke-width="1"/>
<text transform="translate(330.5 194.16) rotate(-90)" x="0" y="0" font-size="10.8" font-weight="normal" font-style="normal" fill="#262626" textLength="94.83" lengthAdjust="spacingAndGlyphs" style="stroke-width:0px;stroke:#262626">Exosomal TGF-β1</text>
<text transform="translate(344.9 200.54) rotate(-90)" x="0" y="0" font-size="10.8" font-weight="normal" font-style="normal" fill="#262626" textLength="108.37" lengthAdjust="spacingAndGlyphs" style="stroke-width:0px;stroke:#262626">(pg/µg of exosomes)</text>
<rect x="381.5" y="224.5" width="104" height="139" fill="none" stroke="#151515" stroke-width="1"/>
<line x1="377.2" y1="363.5" x2="381.2" y2="363.5" stroke="#151515" stroke-width="1"/>
<text x="367.45" y="368.09" font-size="13.3" font-weight="normal" font-style="normal" fill="#151515" textLength="7.69" lengthAdjust="spacingAndGlyphs">0</text>
<line x1="377.2" y1="328.5" x2="381.2" y2="328.5" stroke="#151515" stroke-width="1"/>
<text x="359.8" y="333.44" font-size="13.3" font-weight="normal" font-style="normal" fill="#151515" textLength="15.39" lengthAdjust="spacingAndGlyphs">25</text>
<line x1="377.2" y1="293.5" x2="381.2" y2="293.5" stroke="#151515" stroke-width="1"/>
<text x="359.75" y="298.79" font-size="13.3" font-weight="normal" font-style="normal" fill="#151515" textLength="15.39" lengthAdjust="spacingAndGlyphs">50</text>
<line x1="377.2" y1="259.5" x2="381.2" y2="259.5" stroke="#151515" stroke-width="1"/>
<text x="359.8" y="264.08" font-size="13.3" font-weight="normal" font-style="normal" fill="#151515" textLength="15.39" lengthAdjust="spacingAndGlyphs">75</text>
<line x1="377.2" y1="224.5" x2="381.2" y2="224.5" stroke="#151515" stroke-width="1"/>
<text x="352.06" y="229.49" font-size="13.3" font-weight="normal" font-style="normal" fill="#151515" textLength="23.08" lengthAdjust="spacingAndGlyphs">100</text>
<line x1="388.5" y1="341.02" x2="388.5" y2="348.79" stroke="#151515" stroke-width="1"/>
<line x1="386.1" y1="341.5" x2="391.1" y2="341.5" stroke="#151515" stroke-width="1.2"/>
<rect x="384.5" y="349.5" width="9" height="13.70" fill="#bababa" stroke="#151515" stroke-width="1"/>
<line x1="403.5" y1="234.86" x2="403.5" y2="244" stroke="#151515" stroke-width="1"/>
<line x1="401.1" y1="234.5" x2="406.1" y2="234.5" stroke="#151515" stroke-width="1.2"/>
<rect x="399.5" y="244.5" width="8" height="118.70" fill="#bababa" stroke="#151515" stroke-width="1"/>
<rect x="413.5" y="260.5" width="9" height="102.70" fill="#bababa" stroke="#151515" stroke-width="1"/>
<line x1="433.5" y1="350.45" x2="433.5" y2="351.83" stroke="#151515" stroke-width="1"/>
<line x1="430.65" y1="350.5" x2="435.65" y2="350.5" stroke="#151515" stroke-width="1.2"/>
<rect x="428.5" y="352.5" width="9" height="10.70" fill="#bababa" stroke="#151515" stroke-width="1"/>
<line x1="447.5" y1="333.82" x2="447.5" y2="340.19" stroke="#151515" stroke-width="1"/>
<line x1="445.15" y1="333.5" x2="450.15" y2="333.5" stroke="#151515" stroke-width="1.2"/>
<rect x="443.5" y="340.5" width="8" height="22.70" fill="#bababa" stroke="#151515" stroke-width="1"/>
<line x1="462.5" y1="271.72" x2="462.5" y2="280.18" stroke="#151515" stroke-width="1"/>
<line x1="460.15" y1="271.5" x2="465.15" y2="271.5" stroke="#151515" stroke-width="1.2"/>
<rect x="458.5" y="280.5" width="9" height="82.70" fill="#bababa" stroke="#151515" stroke-width="1"/>
<line x1="477.5" y1="242.48" x2="477.5" y2="251.49" stroke="#151515" stroke-width="1"/>
<line x1="475.15" y1="242.5" x2="480.15" y2="242.5" stroke="#151515" stroke-width="1.2"/>
<rect x="473.5" y="251.5" width="9" height="111.70" fill="#bababa" stroke="#151515" stroke-width="1"/>
<line x1="390.5" y1="363.2" x2="390.5" y2="370.3" stroke="#151515" stroke-width="1"/>
<text transform="translate(395.39 417.86) rotate(-90)" x="0" y="0" font-size="14" font-weight="normal" font-style="normal" fill="#151515" textLength="47.62" lengthAdjust="spacingAndGlyphs">LNCAP</text>
<line x1="405.5" y1="363.2" x2="405.5" y2="370.3" stroke="#151515" stroke-width="1"/>
<text transform="translate(410.22 414.85) rotate(-90)" x="0" y="0" font-size="14" font-weight="normal" font-style="normal" fill="#151515" textLength="44.45" lengthAdjust="spacingAndGlyphs">DU145</text>
<line x1="419.5" y1="363.2" x2="419.5" y2="370.3" stroke="#151515" stroke-width="1"/>
<text transform="translate(424.49 398.15) rotate(-90)" x="0" y="0" font-size="14" font-weight="normal" font-style="normal" fill="#151515" textLength="27.78" lengthAdjust="spacingAndGlyphs">PC3</text>
<line x1="433.5" y1="363.2" x2="433.5" y2="370.3" stroke="#151515" stroke-width="1"/>
<text transform="translate(438.99 414.73) rotate(-90)" x="0" y="0" font-size="14" font-weight="normal" font-style="normal" fill="#151515" textLength="44.45" lengthAdjust="spacingAndGlyphs">CaCo2</text>
<line x1="448.5" y1="363.2" x2="448.5" y2="370.3" stroke="#151515" stroke-width="1"/>
<text transform="translate(453.99 421.18) rotate(-90)" x="0" y="0" font-size="14" font-weight="normal" font-style="normal" fill="#151515" textLength="50.8" lengthAdjust="spacingAndGlyphs">HT1376</text>
<line x1="463.5" y1="363.2" x2="463.5" y2="370.3" stroke="#151515" stroke-width="1"/>
<text transform="translate(468.99 409.15) rotate(-90)" x="0" y="0" font-size="14" font-weight="normal" font-style="normal" fill="#151515" textLength="38.87" lengthAdjust="spacingAndGlyphs">MCF7</text>
<line x1="477.5" y1="363.2" x2="477.5" y2="370.3" stroke="#151515" stroke-width="1"/>
<text transform="translate(482.92 405.32) rotate(-90)" x="0" y="0" font-size="14" font-weight="normal" font-style="normal" fill="#151515" textLength="34.92" lengthAdjust="spacingAndGlyphs">Meso</text>
<text transform="translate(329.7 353.92) rotate(-90)" x="0" y="0" font-size="10.8" font-weight="normal" font-style="normal" fill="#262626" textLength="107.34" lengthAdjust="spacingAndGlyphs" style="stroke-width:0px;stroke:#262626">% Luciferase activity</text>
<text transform="translate(345.1 370.93) rotate(-90)" x="0" y="0" font-size="11" font-weight="normal" font-style="normal" fill="#262626" textLength="160.85" lengthAdjust="spacingAndGlyphs" style="stroke-width:0px;stroke:#262626">(relative to 1 ng/mL of TGF-β1)</text>
<text x="32.25" y="451.6" font-size="17.6" font-weight="bold" font-style="normal" fill="#151515" textLength="11.49" lengthAdjust="spacingAndGlyphs">C</text>
<rect x="76.5" y="463.5" width="107" height="141" fill="none" stroke="#151515" stroke-width="1"/>
<line x1="73.2" y1="604.5" x2="76.8" y2="604.5" stroke="#151515" stroke-width="1"/>
<text x="67.66" y="609.1" font-size="10.6" font-weight="normal" font-style="normal" fill="#151515" textLength="6.6" lengthAdjust="spacingAndGlyphs">0</text>
<line x1="73.2" y1="594.5" x2="76.8" y2="594.5" stroke="#151515" stroke-width="1"/>
<text x="59.36" y="599.05" font-size="10.6" font-weight="normal" font-style="normal" fill="#151515" textLength="13.21" lengthAdjust="spacingAndGlyphs">10</text>
<line x1="73.2" y1="584.5" x2="76.8" y2="584.5" stroke="#151515" stroke-width="1"/>
<text x="59.36" y="589" font-size="10.6" font-weight="normal" font-style="normal" fill="#151515" textLength="13.21" lengthAdjust="spacingAndGlyphs">20</text>
<line x1="73.2" y1="574.5" x2="76.8" y2="574.5" stroke="#151515" stroke-width="1"/>
<text x="59.36" y="578.95" font-size="10.6" font-weight="normal" font-style="normal" fill="#151515" textLength="13.21" lengthAdjust="spacingAndGlyphs">30</text>
<line x1="73.2" y1="564.5" x2="76.8" y2="564.5" stroke="#151515" stroke-width="1"/>
<text x="59.36" y="568.9" font-size="10.6" font-weight="normal" font-style="normal" fill="#151515" textLength="13.21" lengthAdjust="spacingAndGlyphs">40</text>
<line x1="73.2" y1="554.5" x2="76.8" y2="554.5" stroke="#151515" stroke-width="1"/>
<text x="59.36" y="558.85" font-size="10.6" font-weight="normal" font-style="normal" fill="#151515" textLength="13.21" lengthAdjust="spacingAndGlyphs">50</text>
<line x1="73.2" y1="544.5" x2="76.8" y2="544.5" stroke="#151515" stroke-width="1"/>
<text x="59.36" y="548.8" font-size="10.6" font-weight="normal" font-style="normal" fill="#151515" textLength="13.21" lengthAdjust="spacingAndGlyphs">60</text>
<line x1="73.2" y1="533.5" x2="76.8" y2="533.5" stroke="#151515" stroke-width="1"/>
<text x="59.36" y="538.75" font-size="10.6" font-weight="normal" font-style="normal" fill="#151515" textLength="13.21" lengthAdjust="spacingAndGlyphs">70</text>
<line x1="73.2" y1="523.5" x2="76.8" y2="523.5" stroke="#151515" stroke-width="1"/>
<text x="59.36" y="528.7" font-size="10.6" font-weight="normal" font-style="normal" fill="#151515" textLength="13.21" lengthAdjust="spacingAndGlyphs">80</text>
<line x1="73.2" y1="513.5" x2="76.8" y2="513.5" stroke="#151515" stroke-width="1"/>
<text x="59.36" y="518.65" font-size="10.6" font-weight="normal" font-style="normal" fill="#151515" textLength="13.21" lengthAdjust="spacingAndGlyphs">90</text>
<line x1="73.2" y1="503.5" x2="76.8" y2="503.5" stroke="#151515" stroke-width="1"/>
<text x="51.36" y="508.6" font-size="10.6" font-weight="normal" font-style="normal" fill="#151515" textLength="19.81" lengthAdjust="spacingAndGlyphs">100</text>
<line x1="73.2" y1="493.5" x2="76.8" y2="493.5" stroke="#151515" stroke-width="1"/>
<text x="51.36" y="498.55" font-size="10.6" font-weight="normal" font-style="normal" fill="#151515" textLength="19.81" lengthAdjust="spacingAndGlyphs">110</text>
<line x1="73.2" y1="483.5" x2="76.8" y2="483.5" stroke="#151515" stroke-width="1"/>
<text x="51.36" y="488.5" font-size="10.6" font-weight="normal" font-style="normal" fill="#151515" textLength="19.81" lengthAdjust="spacingAndGlyphs">120</text>
<line x1="73.2" y1="473.5" x2="76.8" y2="473.5" stroke="#151515" stroke-width="1"/>
<text x="51.36" y="478.45" font-size="10.6" font-weight="normal" font-style="normal" fill="#151515" textLength="19.81" lengthAdjust="spacingAndGlyphs">130</text>
<line x1="73.2" y1="463.5" x2="76.8" y2="463.5" stroke="#151515" stroke-width="1"/>
<text x="51.36" y="468.4" font-size="10.6" font-weight="normal" font-style="normal" fill="#151515" textLength="19.81" lengthAdjust="spacingAndGlyphs">140</text>
<rect x="79.4" y="477.2" width="13.6" height="12.9" fill="#202020"/>
<rect x="79.75" y="465.95" width="12.9" height="11.4" fill="#fff" stroke="#151515" stroke-width="1.7"/>
<text x="95.08" y="474.6" font-size="10.8" font-weight="normal" font-style="normal" fill="#151515" textLength="29.3" lengthAdjust="spacingAndGlyphs">Active</text>
<text x="95.36" y="487.9" font-size="10.8" font-weight="normal" font-style="normal" fill="#151515" textLength="23.55" lengthAdjust="spacingAndGlyphs">Total</text>
<rect x="83.5" y="602.5" width="11" height="1.80" fill="#fff" stroke="#151515" stroke-width="1"/>
<line x1="100.5" y1="492.85" x2="100.5" y2="505.01" stroke="#151515" stroke-width="1"/>
<line x1="97.35" y1="492.5" x2="103.85" y2="492.5" stroke="#151515" stroke-width="1.2"/>
<rect x="95.5" y="505.5" width="10" height="98.80" fill="#242424" stroke="#151515" stroke-width="1"/>
<line x1="94.5" y1="604.3" x2="94.5" y2="612" stroke="#151515" stroke-width="1"/>
<text transform="translate(100.18 650.63) rotate(-90)" x="0" y="0" font-size="14.2" font-weight="normal" font-style="normal" fill="#151515" textLength="34.72" lengthAdjust="spacingAndGlyphs">Meso</text>
<text transform="translate(92 596.79) rotate(-90)" x="0" y="0" font-size="11" font-weight="normal" font-style="italic" fill="#151515" textLength="31.77" lengthAdjust="spacingAndGlyphs">1.87%</text>
<rect x="118.5" y="602.5" width="12" height="1.80" fill="#fff" stroke="#151515" stroke-width="1"/>
<line x1="136.5" y1="495.86" x2="136.5" y2="503.9" stroke="#151515" stroke-width="1"/>
<line x1="133.05" y1="495.5" x2="139.55" y2="495.5" stroke="#151515" stroke-width="1.2"/>
<rect x="131.5" y="504.5" width="10" height="99.80" fill="#242424" stroke="#151515" stroke-width="1"/>
<line x1="130.5" y1="604.3" x2="130.5" y2="612" stroke="#151515" stroke-width="1"/>
<text transform="translate(135.96 643.5) rotate(-90)" x="0" y="0" font-size="14.2" font-weight="normal" font-style="normal" fill="#151515" textLength="27.62" lengthAdjust="spacingAndGlyphs">PC3</text>
<text transform="translate(127.7 596.79) rotate(-90)" x="0" y="0" font-size="11" font-weight="normal" font-style="italic" fill="#151515" textLength="31.77" lengthAdjust="spacingAndGlyphs">1.71%</text>
<rect x="153.5" y="601.5" width="12" height="2.80" fill="#fff" stroke="#151515" stroke-width="1"/>
<line x1="171.5" y1="496.87" x2="171.5" y2="504.1" stroke="#151515" stroke-width="1"/>
<line x1="167.85" y1="496.5" x2="174.35" y2="496.5" stroke="#151515" stroke-width="1.2"/>
<rect x="166.5" y="504.5" width="10" height="99.80" fill="#242424" stroke="#151515" stroke-width="1"/>
<line x1="165.5" y1="604.3" x2="165.5" y2="612" stroke="#151515" stroke-width="1"/>
<text transform="translate(170.68 660.11) rotate(-90)" x="0" y="0" font-size="14.2" font-weight="normal" font-style="normal" fill="#151515" textLength="44.2" lengthAdjust="spacingAndGlyphs">DU145</text>
<text transform="translate(162.5 596.44) rotate(-90)" x="0" y="0" font-size="11" font-weight="normal" font-style="italic" fill="#151515" textLength="31.41" lengthAdjust="spacingAndGlyphs">2.76%</text>
<text transform="translate(42.8 599.04) rotate(-90)" x="0" y="0" font-size="11.6" font-weight="normal" font-style="normal" fill="#262626" textLength="108.3" lengthAdjust="spacingAndGlyphs" style="stroke-width:0px;stroke:#262626">Proportion of TGF-β1</text>
<text transform="translate(42.9 486.23) rotate(-90)" x="0" y="0" font-size="13.2" font-weight="normal" font-style="normal" fill="#262626" textLength="20.86" lengthAdjust="spacingAndGlyphs" style="stroke-width:0px;stroke:#262626">(%)</text>
<text x="221.98" y="451.5" font-size="17.6" font-weight="bold" font-style="normal" fill="#151515" textLength="12.13" lengthAdjust="spacingAndGlyphs">D</text>
<rect x="262.5" y="464.5" width="106" height="141" fill="none" stroke="#151515" stroke-width="1"/>
<line x1="259.2" y1="605.5" x2="262.8" y2="605.5" stroke="#151515" stroke-width="1"/>
<text x="249.39" y="609.96" font-size="12.2" font-weight="normal" font-style="normal" fill="#151515" textLength="7.33" lengthAdjust="spacingAndGlyphs">0</text>
<line x1="259.2" y1="592.5" x2="262.8" y2="592.5" stroke="#151515" stroke-width="1"/>
<text x="242.06" y="597.74" font-size="12.2" font-weight="normal" font-style="normal" fill="#151515" textLength="14.66" lengthAdjust="spacingAndGlyphs">10</text>
<line x1="259.2" y1="580.5" x2="262.8" y2="580.5" stroke="#151515" stroke-width="1"/>
<text x="242.06" y="585.52" font-size="12.2" font-weight="normal" font-style="normal" fill="#151515" textLength="14.66" lengthAdjust="spacingAndGlyphs">20</text>
<line x1="259.2" y1="568.5" x2="262.8" y2="568.5" stroke="#151515" stroke-width="1"/>
<text x="242.06" y="573.3" font-size="12.2" font-weight="normal" font-style="normal" fill="#151515" textLength="14.66" lengthAdjust="spacingAndGlyphs">30</text>
<line x1="259.2" y1="556.5" x2="262.8" y2="556.5" stroke="#151515" stroke-width="1"/>
<text x="242.06" y="561.09" font-size="12.2" font-weight="normal" font-style="normal" fill="#151515" textLength="14.66" lengthAdjust="spacingAndGlyphs">40</text>
<line x1="259.2" y1="544.5" x2="262.8" y2="544.5" stroke="#151515" stroke-width="1"/>
<text x="242.06" y="548.87" font-size="12.2" font-weight="normal" font-style="normal" fill="#151515" textLength="14.66" lengthAdjust="spacingAndGlyphs">50</text>
<line x1="259.2" y1="531.5" x2="262.8" y2="531.5" stroke="#151515" stroke-width="1"/>
<text x="242.06" y="536.65" font-size="12.2" font-weight="normal" font-style="normal" fill="#151515" textLength="14.66" lengthAdjust="spacingAndGlyphs">60</text>
<line x1="259.2" y1="519.5" x2="262.8" y2="519.5" stroke="#151515" stroke-width="1"/>
<text x="242.06" y="524.43" font-size="12.2" font-weight="normal" font-style="normal" fill="#151515" textLength="14.66" lengthAdjust="spacingAndGlyphs">70</text>
<line x1="259.2" y1="507.5" x2="262.8" y2="507.5" stroke="#151515" stroke-width="1"/>
<text x="242.06" y="512.21" font-size="12.2" font-weight="normal" font-style="normal" fill="#151515" textLength="14.66" lengthAdjust="spacingAndGlyphs">80</text>
<line x1="259.2" y1="495.5" x2="262.8" y2="495.5" stroke="#151515" stroke-width="1"/>
<text x="242.06" y="500" font-size="12.2" font-weight="normal" font-style="normal" fill="#151515" textLength="14.66" lengthAdjust="spacingAndGlyphs">90</text>
<line x1="259.2" y1="483.5" x2="262.8" y2="483.5" stroke="#151515" stroke-width="1"/>
<text x="234.03" y="487.78" font-size="12.2" font-weight="normal" font-style="normal" fill="#151515" textLength="21.98" lengthAdjust="spacingAndGlyphs">100</text>
<line x1="259.2" y1="470.5" x2="262.8" y2="470.5" stroke="#151515" stroke-width="1"/>
<text x="234.03" y="475.56" font-size="12.2" font-weight="normal" font-style="normal" fill="#151515" textLength="21.98" lengthAdjust="spacingAndGlyphs">110</text>
<rect x="268.45" y="467.45" width="12.5" height="11.2" fill="#bfbfbf" stroke="#222" stroke-width="1.5"/>
<rect x="268.45" y="478.65" width="12.5" height="11.2" fill="#9c9c9c" stroke="#222" stroke-width="1.5"/>
<text x="284.18" y="475.5" font-size="10.8" font-weight="normal" font-style="normal" fill="#151515" textLength="29.3" lengthAdjust="spacingAndGlyphs">Active</text>
<text x="284.46" y="489" font-size="10.8" font-weight="normal" font-style="normal" fill="#151515" textLength="24.07" lengthAdjust="spacingAndGlyphs">Total</text>
<line x1="280.5" y1="509.96" x2="280.5" y2="514.91" stroke="#151515" stroke-width="1"/>
<line x1="275.48" y1="509.5" x2="284.77" y2="509.5" stroke="#151515" stroke-width="1.2"/>
<line x1="297.5" y1="508.55" x2="297.5" y2="519.79" stroke="#151515" stroke-width="1"/>
<line x1="293.25" y1="508.5" x2="302.55" y2="508.5" stroke="#151515" stroke-width="1.2"/>
<rect x="271.5" y="515.5" width="17" height="89.70" fill="#bfbfbf" stroke="#151515" stroke-width="1"/>
<rect x="289.5" y="520.5" width="17" height="84.70" fill="#9c9c9c" stroke="#151515" stroke-width="1"/>
<line x1="289.5" y1="605.2" x2="289.5" y2="614" stroke="#151515" stroke-width="1"/>
<text transform="translate(292.81 637.64) rotate(-90)" x="0" y="0" font-size="11.5" font-weight="normal" font-style="normal" fill="#151515" textLength="19.19" lengthAdjust="spacingAndGlyphs">200</text>
<line x1="333.5" y1="501.96" x2="333.5" y2="508.8" stroke="#151515" stroke-width="1"/>
<line x1="328.65" y1="501.5" x2="337.95" y2="501.5" stroke="#151515" stroke-width="1.2"/>
<line x1="351.5" y1="487.17" x2="351.5" y2="489.13" stroke="#151515" stroke-width="1"/>
<line x1="346.45" y1="487.5" x2="355.75" y2="487.5" stroke="#151515" stroke-width="1.2"/>
<rect x="324.5" y="509.5" width="17" height="95.70" fill="#bfbfbf" stroke="#151515" stroke-width="1"/>
<rect x="342.5" y="489.5" width="17" height="115.70" fill="#9c9c9c" stroke="#151515" stroke-width="1"/>
<line x1="342.5" y1="605.2" x2="342.5" y2="614" stroke="#151515" stroke-width="1"/>
<text transform="translate(345.71 644.53) rotate(-90)" x="0" y="0" font-size="11.5" font-weight="normal" font-style="normal" fill="#151515" textLength="28.78" lengthAdjust="spacingAndGlyphs">1,000</text>
<text transform="translate(210.8 598.32) rotate(-90)" x="0" y="0" font-size="11" font-weight="normal" font-style="normal" fill="#262626" textLength="108.55" lengthAdjust="spacingAndGlyphs" style="stroke-width:0px;stroke:#262626">% Luciferase activity</text>
<text transform="translate(225.3 626.43) rotate(-90)" x="0" y="0" font-size="11.3" font-weight="normal" font-style="normal" fill="#262626" textLength="161.96" lengthAdjust="spacingAndGlyphs" style="stroke-width:0px;stroke:#262626">(relative to 1 ng/mL of TGF-β1)</text>
<text x="259.01" y="658.5" font-size="13.6" font-weight="normal" font-style="normal" fill="#151515" textLength="122.66" lengthAdjust="spacingAndGlyphs">Exo-TGF-β1 (pg/mL)</text>
<rect x="380.5" y="464.5" width="106" height="141" fill="none" stroke="#151515" stroke-width="1"/>
<line x1="377.4" y1="605.5" x2="380.6" y2="605.5" stroke="#151515" stroke-width="1"/>
<line x1="377.4" y1="592.5" x2="380.6" y2="592.5" stroke="#151515" stroke-width="1"/>
<line x1="377.4" y1="580.5" x2="380.6" y2="580.5" stroke="#151515" stroke-width="1"/>
<line x1="377.4" y1="568.5" x2="380.6" y2="568.5" stroke="#151515" stroke-width="1"/>
<line x1="377.4" y1="556.5" x2="380.6" y2="556.5" stroke="#151515" stroke-width="1"/>
<line x1="377.4" y1="544.5" x2="380.6" y2="544.5" stroke="#151515" stroke-width="1"/>
<line x1="377.4" y1="531.5" x2="380.6" y2="531.5" stroke="#151515" stroke-width="1"/>
<line x1="377.4" y1="519.5" x2="380.6" y2="519.5" stroke="#151515" stroke-width="1"/>
<line x1="377.4" y1="507.5" x2="380.6" y2="507.5" stroke="#151515" stroke-width="1"/>
<line x1="377.4" y1="495.5" x2="380.6" y2="495.5" stroke="#151515" stroke-width="1"/>
<line x1="377.4" y1="483.5" x2="380.6" y2="483.5" stroke="#151515" stroke-width="1"/>
<line x1="377.4" y1="470.5" x2="380.6" y2="470.5" stroke="#151515" stroke-width="1"/>
<line x1="380.5" y1="605.7" x2="380.5" y2="613.7" stroke="#151515" stroke-width="1"/>
<text transform="translate(385.15 621.64) rotate(-90)" x="0" y="0" font-size="11.3" font-weight="normal" font-style="normal" fill="#151515" textLength="6.28" lengthAdjust="spacingAndGlyphs">0</text>
<line x1="405.5" y1="605.7" x2="405.5" y2="613.7" stroke="#151515" stroke-width="1"/>
<text transform="translate(410.32 634.21) rotate(-90)" x="0" y="0" font-size="11.3" font-weight="normal" font-style="normal" fill="#151515" textLength="18.85" lengthAdjust="spacingAndGlyphs">500</text>
<line x1="430.5" y1="605.7" x2="430.5" y2="613.7" stroke="#151515" stroke-width="1"/>
<text transform="translate(435.5 643.64) rotate(-90)" x="0" y="0" font-size="11.3" font-weight="normal" font-style="normal" fill="#151515" textLength="28.28" lengthAdjust="spacingAndGlyphs">1,000</text>
<line x1="455.5" y1="605.7" x2="455.5" y2="613.7" stroke="#151515" stroke-width="1"/>
<text transform="translate(460.67 643.64) rotate(-90)" x="0" y="0" font-size="11.3" font-weight="normal" font-style="normal" fill="#151515" textLength="28.28" lengthAdjust="spacingAndGlyphs">1,500</text>
<line x1="480.5" y1="605.7" x2="480.5" y2="613.7" stroke="#151515" stroke-width="1"/>
<text transform="translate(485.85 643.64) rotate(-90)" x="0" y="0" font-size="11.3" font-weight="normal" font-style="normal" fill="#151515" textLength="28.28" lengthAdjust="spacingAndGlyphs">2,000</text>
<line x1="385.65" y1="568.83" x2="385.65" y2="572.5" stroke="#151515" stroke-width="1"/>
<line x1="382.85" y1="568.83" x2="388.45" y2="568.83" stroke="#151515" stroke-width="1.1"/>
<line x1="382.85" y1="572.5" x2="388.45" y2="572.5" stroke="#151515" stroke-width="1.1"/>
<line x1="395.09" y1="500.66" x2="395.09" y2="516.91" stroke="#151515" stroke-width="1"/>
<line x1="392.29" y1="500.66" x2="397.89" y2="500.66" stroke="#151515" stroke-width="1.1"/>
<line x1="392.29" y1="516.91" x2="397.89" y2="516.91" stroke="#151515" stroke-width="1.1"/>
<line x1="407.68" y1="490.52" x2="407.68" y2="509.33" stroke="#151515" stroke-width="1"/>
<line x1="404.88" y1="490.52" x2="410.48" y2="490.52" stroke="#151515" stroke-width="1.1"/>
<line x1="404.88" y1="509.33" x2="410.48" y2="509.33" stroke="#151515" stroke-width="1.1"/>
<line x1="483.2" y1="482.7" x2="483.2" y2="507.13" stroke="#151515" stroke-width="1"/>
<line x1="480.4" y1="482.7" x2="486" y2="482.7" stroke="#151515" stroke-width="1.1"/>
<line x1="480.4" y1="507.13" x2="486" y2="507.13" stroke="#151515" stroke-width="1.1"/>
<polyline points="382.5,602.43 385.65,570.67 388.79,559.67 395.09,508.72 407.68,499.92 432.85,483.19 483.2,494.91" fill="none" stroke="#151515" stroke-width="1.1"/>
<circle cx="382.5" cy="602.43" r="2.7" fill="#fff" stroke="#151515" stroke-width="1"/>
<circle cx="385.65" cy="570.67" r="2.7" fill="#fff" stroke="#151515" stroke-width="1"/>
<circle cx="388.79" cy="559.67" r="2.7" fill="#fff" stroke="#151515" stroke-width="1"/>
<circle cx="395.09" cy="508.72" r="2.7" fill="#fff" stroke="#151515" stroke-width="1"/>
<circle cx="407.68" cy="499.92" r="2.7" fill="#fff" stroke="#151515" stroke-width="1"/>
<circle cx="432.85" cy="483.19" r="2.7" fill="#fff" stroke="#151515" stroke-width="1"/>
<circle cx="483.2" cy="494.91" r="2.7" fill="#fff" stroke="#151515" stroke-width="1"/>
<line x1="422" y1="555.5" x2="439.5" y2="555.5" stroke="#151515" stroke-width="1.1"/>
<circle cx="430.3" cy="555.5" r="2.4" fill="#fff" stroke="#151515" stroke-width="1"/>
<text x="442.33" y="558.6" font-size="12.6" font-weight="normal" font-style="normal" fill="#151515" textLength="41.15" lengthAdjust="spacingAndGlyphs">TGF-β1</text>
<text x="387.5" y="659.1" font-size="13.6" font-weight="normal" font-style="normal" fill="#151515" textLength="105.23" lengthAdjust="spacingAndGlyphs">rhTGF-β1(pg/mL)</text>
<rect x="0" y="0" width="520" height="1" fill="#4e7aa0"/>
<rect x="0" y="1" width="520" height="1" fill="#92b6d6"/>
<rect x="0" y="2" width="520" height="1" fill="#e2f2fb"/>
<rect x="0" y="0" width="1" height="681" fill="#557a9a"/>
<rect x="1" y="1" width="1" height="679" fill="#a0c3de"/>
<rect x="2" y="2" width="1" height="677" fill="#e8f8ff"/>
<rect x="519" y="0" width="1" height="681" fill="#5a7aa5"/>
<rect x="518" y="1" width="1" height="679" fill="#a2c2e0"/>
<rect x="517" y="2" width="1" height="677" fill="#e8f8ff"/>
<rect x="0" y="680" width="520" height="1" fill="#4a78a8"/>
<rect x="1" y="679" width="518" height="1" fill="#a8cce8"/>
<rect x="2" y="678" width="516" height="1" fill="#e6f6fd"/>
</svg>
</body></html>
